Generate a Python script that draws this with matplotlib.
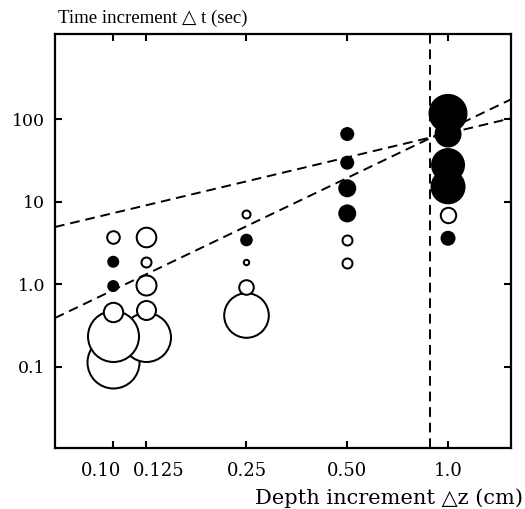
import matplotlib
matplotlib.use('Agg')
import matplotlib.pyplot as plt
import matplotlib.transforms as mtransforms
import numpy as np

plt.rcParams['font.family'] = ['DejaVu Serif', 'DejaVu Sans']

# Measured runs: depth increment (cm), time increment (sec), bubble radius (px), solid marker?
depth = [0.10, 0.10, 0.10, 0.10, 0.10, 0.10,
         0.125, 0.125, 0.125, 0.125, 0.125,
         0.25, 0.25, 0.25, 0.25, 0.25,
         0.50, 0.50, 0.50, 0.50, 0.50, 0.50,
         1.0, 1.0, 1.0, 1.0, 1.0, 1.0]
time = [3.76, 1.87, 0.95, 0.465, 0.233, 0.114,
        3.76, 1.87, 0.98, 0.487, 0.23,
        7.08, 3.43, 1.87, 0.92, 0.424,
        65.8, 29.6, 14.5, 7.2, 3.43, 1.82,
        117, 65.8, 27.7, 15.1, 6.8, 3.6]
radius = [7.3, 6, 6, 10.7, 26.5, 27,
          10.8, 6, 11, 10.5, 25.5,
          5, 6.3, 3.7, 8.3, 23.3,
          7, 7, 9, 9, 6, 6,
          19.5, 13.5, 17, 17.5, 8.7, 7.5]
filled = [0, 1, 1, 0, 0, 0,
          0, 0, 0, 0, 0,
          0, 1, 0, 0, 0,
          1, 1, 1, 1, 0, 0,
          1, 1, 1, 1, 0, 1]

# Two reference trends (endpoints at the frame edges) and the crossover depth
trend_x = [0.067, 1.542]
trend_linear = [4.93, 102]
trend_square = [0.39, 173]
crossover = 0.886

xticks = [0.10, 0.125, 0.25, 0.50, 1.0]
xtick_labels = ['0.10', '0.125', '0.25', '0.50', '1.0']
yticks = [0.1, 1.0, 10, 100]
ytick_labels = ['0.1', '1.0', '10', '100']

DPI = 100
PX = 72.0 / DPI  # points per pixel
EDGE_PX = 2.0

fig = plt.figure(figsize=(5.25, 5.09), dpi=DPI)
ax = fig.add_axes([55 / 525, 1 - 448 / 509, 456 / 525, 414 / 509])
ax.set_xscale('log')
ax.set_yscale('log')
ax.set_xlim(0.067, 1.542)
ax.set_ylim(0.0104, 1070)

# draw bubbles from the bottom up so upper circles sit over lower ones
order = np.argsort(time)
for i in order:
    if filled[i]:
        d = 2 * radius[i] * PX
        ax.scatter(depth[i], time[i], s=d ** 2, c='black', edgecolors='none',
                   zorder=3)
    else:
        d = 2 * (radius[i] - EDGE_PX / 2) * PX
        ax.scatter(depth[i], time[i], s=d ** 2, facecolors='white',
                   edgecolors='black', linewidths=EDGE_PX * PX, zorder=3)

dash = (5, 3)
ax.plot(trend_x, trend_linear, color='black', lw=1.4, dashes=dash, zorder=4)
ax.plot(trend_x, trend_square, color='black', lw=1.4, dashes=dash, zorder=4)
ax.axvline(crossover, color='black', lw=1.4, dashes=dash, zorder=4)

ax.minorticks_off()
ax.set_xticks(xticks)
ax.set_xticklabels(xtick_labels)
ax.set_yticks(yticks)
ax.set_yticklabels(ytick_labels)
ax.tick_params(which='major', direction='in', length=5, width=1.5,
               top=True, right=True, labelsize=12.5, pad=10)
ax.tick_params(axis='x', labelsize=13)
ax.tick_params(axis='y', pad=7)
for s in ax.spines.values():
    s.set_linewidth(1.6)

# spread the two crowded labels apart
labels = ax.get_xticklabels()
shift = {0: -12 / DPI, 1: 13 / DPI}
for k, dx in shift.items():
    off = mtransforms.ScaledTranslation(dx, 0, fig.dpi_scale_trans)
    labels[k].set_transform(labels[k].get_transform() + off)

fig.text(58 / 525, 1 - 23 / 509, 'Time increment \u25b3 t (sec)',
         family=['Liberation Serif', 'DejaVu Serif'],
         fontsize=13.5, ha='left', va='baseline')
fig.text(523 / 525, 1 - 504 / 509, 'Depth increment \u25b3z (cm)',
         fontsize=15, ha='right', va='baseline')

plt.savefig('out.png', dpi=DPI)
plt.close()
